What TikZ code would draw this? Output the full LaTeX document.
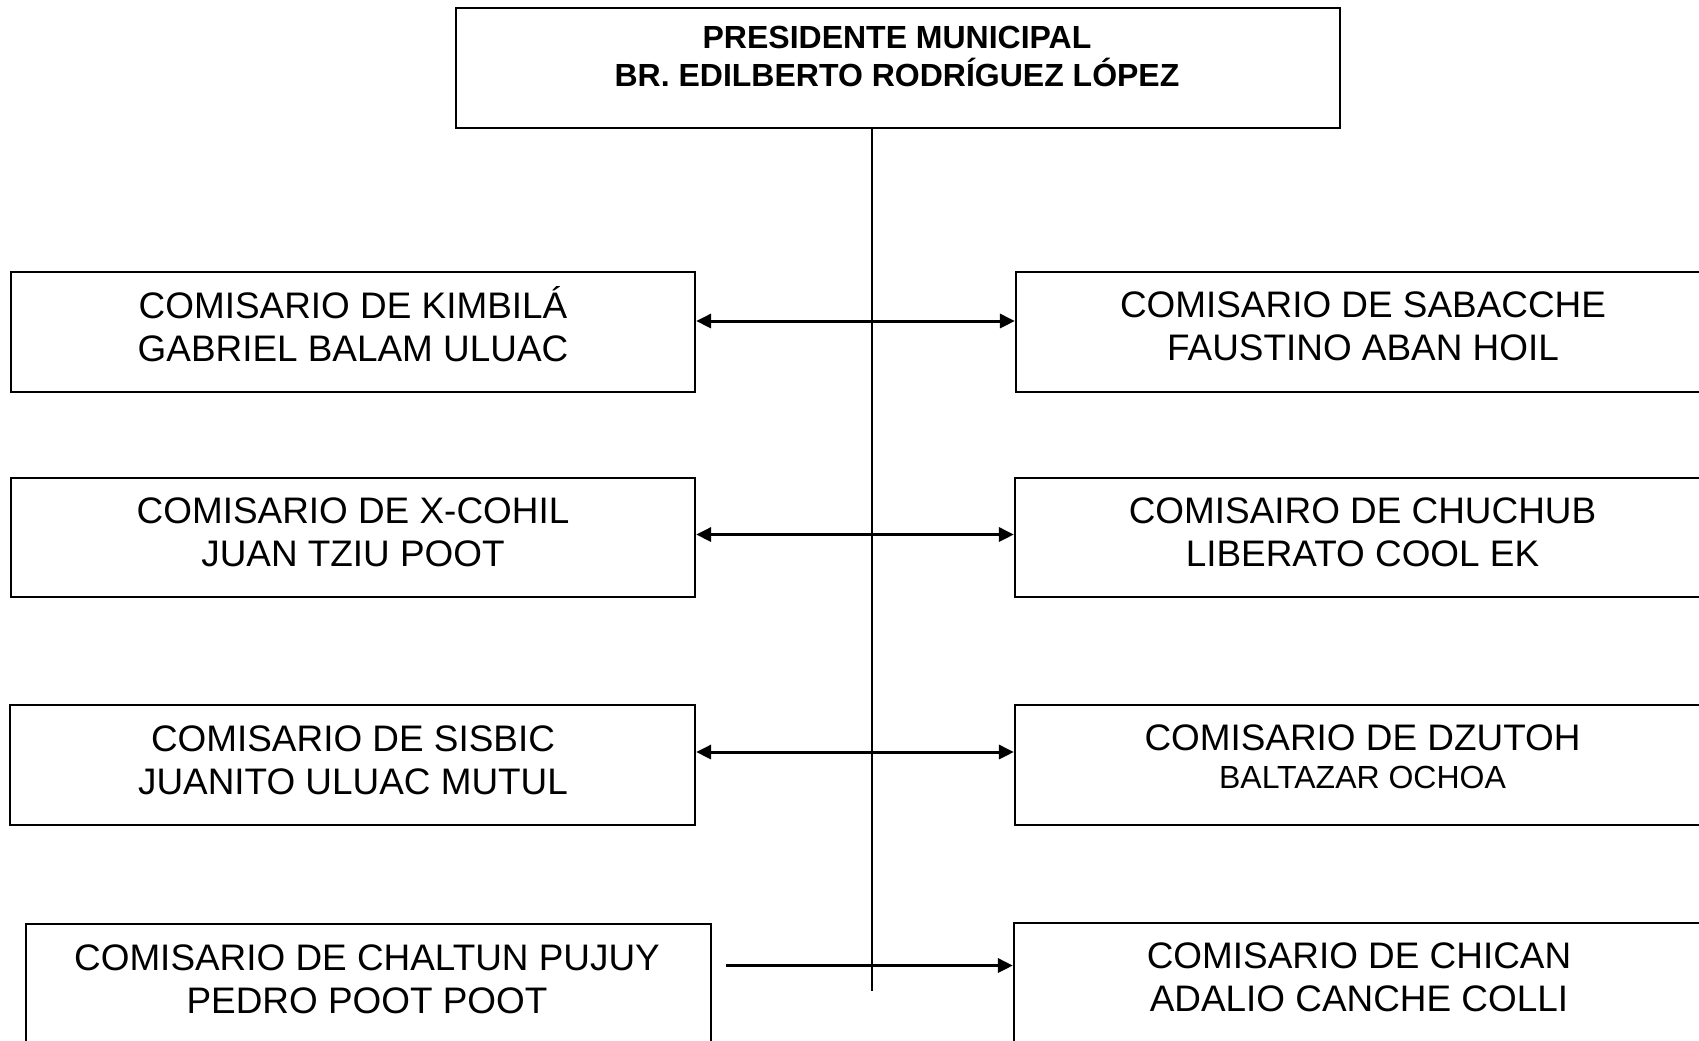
\documentclass[tikz,border=0pt]{standalone}
\usepackage{fontspec}
\setmainfont{Liberation Sans}
\usetikzlibrary{arrows.meta}
\begin{document}
\begin{tikzpicture}[x=0.5pt,y=-0.5pt,
  box/.style={draw, line width=1.1pt, inner sep=0pt},
  txt/.style={align=center, inner sep=0pt, font=\fontsize{18.45}{21.5}\selectfont},
  ttl/.style={align=center, inner sep=0pt, font=\bfseries\fontsize{16}{19}\selectfont},
  small/.style={inner sep=0pt, font=\fontsize{16}{19}\selectfont},
  conn/.style={line width=1.5pt},
  both/.style={conn, {Triangle[length=7.5pt,width=7pt]}-{Triangle[length=7.5pt,width=7pt]}},
  one/.style={conn, -{Triangle[length=7.5pt,width=7pt]}},
  vline/.style={line width=1.1pt}]
\useasboundingbox (0,0) rectangle (1699,1040);
\clip (0,0) rectangle (1699,1040);
\fill[white] (0,0) rectangle (1699,1040);

% boxes
\node[box, minimum width=442pt, minimum height=60.2pt] (top) at (898,67.8) {};
\node[box, minimum width=342pt, minimum height=60pt] (l1) at (353,332) {};
\node[box, minimum width=342pt, minimum height=59.5pt] (l2) at (353,537.5) {};
\node[box, minimum width=342.5pt, minimum height=60pt] (l3) at (352.5,765) {};
\node[box, minimum width=342.5pt, minimum height=59.5pt] (l4) at (368.5,983.5) {};
\node[box, minimum width=347pt, minimum height=60pt] (r1) at (1363,332) {};
\node[box, minimum width=347.5pt, minimum height=59.5pt] (r2) at (1362.5,537.5) {};
\node[box, minimum width=347.5pt, minimum height=60pt] (r3) at (1362.5,765) {};
\node[box, minimum width=348pt, minimum height=60pt] (r4) at (1362,983) {};

% texts
\node[ttl] (t0) at (897,56) {PRESIDENTE MUNICIPAL\\BR. EDILBERTO RODRÍGUEZ LÓPEZ};
\node[txt] (tl1) at (353,324) {COMISARIO DE KIMBILÁ\\GABRIEL BALAM ULUAC};
\node[txt] (tr1) at (1363,326) {COMISARIO DE SABACCHE\\FAUSTINO ABAN HOIL};
\node[txt] (tl2) at (353,532) {COMISARIO DE X-COHIL\\JUAN TZIU POOT};
\node[txt] (tr2) at (1362.5,532) {COMISAIRO DE CHUCHUB\\LIBERATO COOL EK};
\node[txt] (tl3) at (353,760) {COMISARIO DE SISBIC\\JUANITO ULUAC MUTUL};
\node[txt] (tr3a) at (1362.5,738) {COMISARIO DE DZUTOH};
\node[small] (tr3b) at (1362.5,777) {BALTAZAR OCHOA};
\node[txt] (tl4) at (367,979.5) {COMISARIO DE CHALTUN PUJUY\\PEDRO POOT POOT};
\node[txt] (tr4) at (1359,977.5) {COMISARIO DE CHICAN\\ADALIO CANCHE COLLI};

% connectors
\coordinate (vend) at (872,991);
\draw[vline] (top.south -| vend) -- (vend);
\coordinate (y1) at (0,321);
\coordinate (y2) at (0,534.5);
\coordinate (y3) at (0,752);
\coordinate (a4) at (726,965.5);
\draw[both] (l1.east |- y1) -- (r1.west |- y1);
\draw[both] (l2.east |- y2) -- (r2.west |- y2);
\draw[both] (l3.east |- y3) -- (r3.west |- y3);
\draw[one] (a4) -- (r4.west |- a4);
\end{tikzpicture}
\end{document}
